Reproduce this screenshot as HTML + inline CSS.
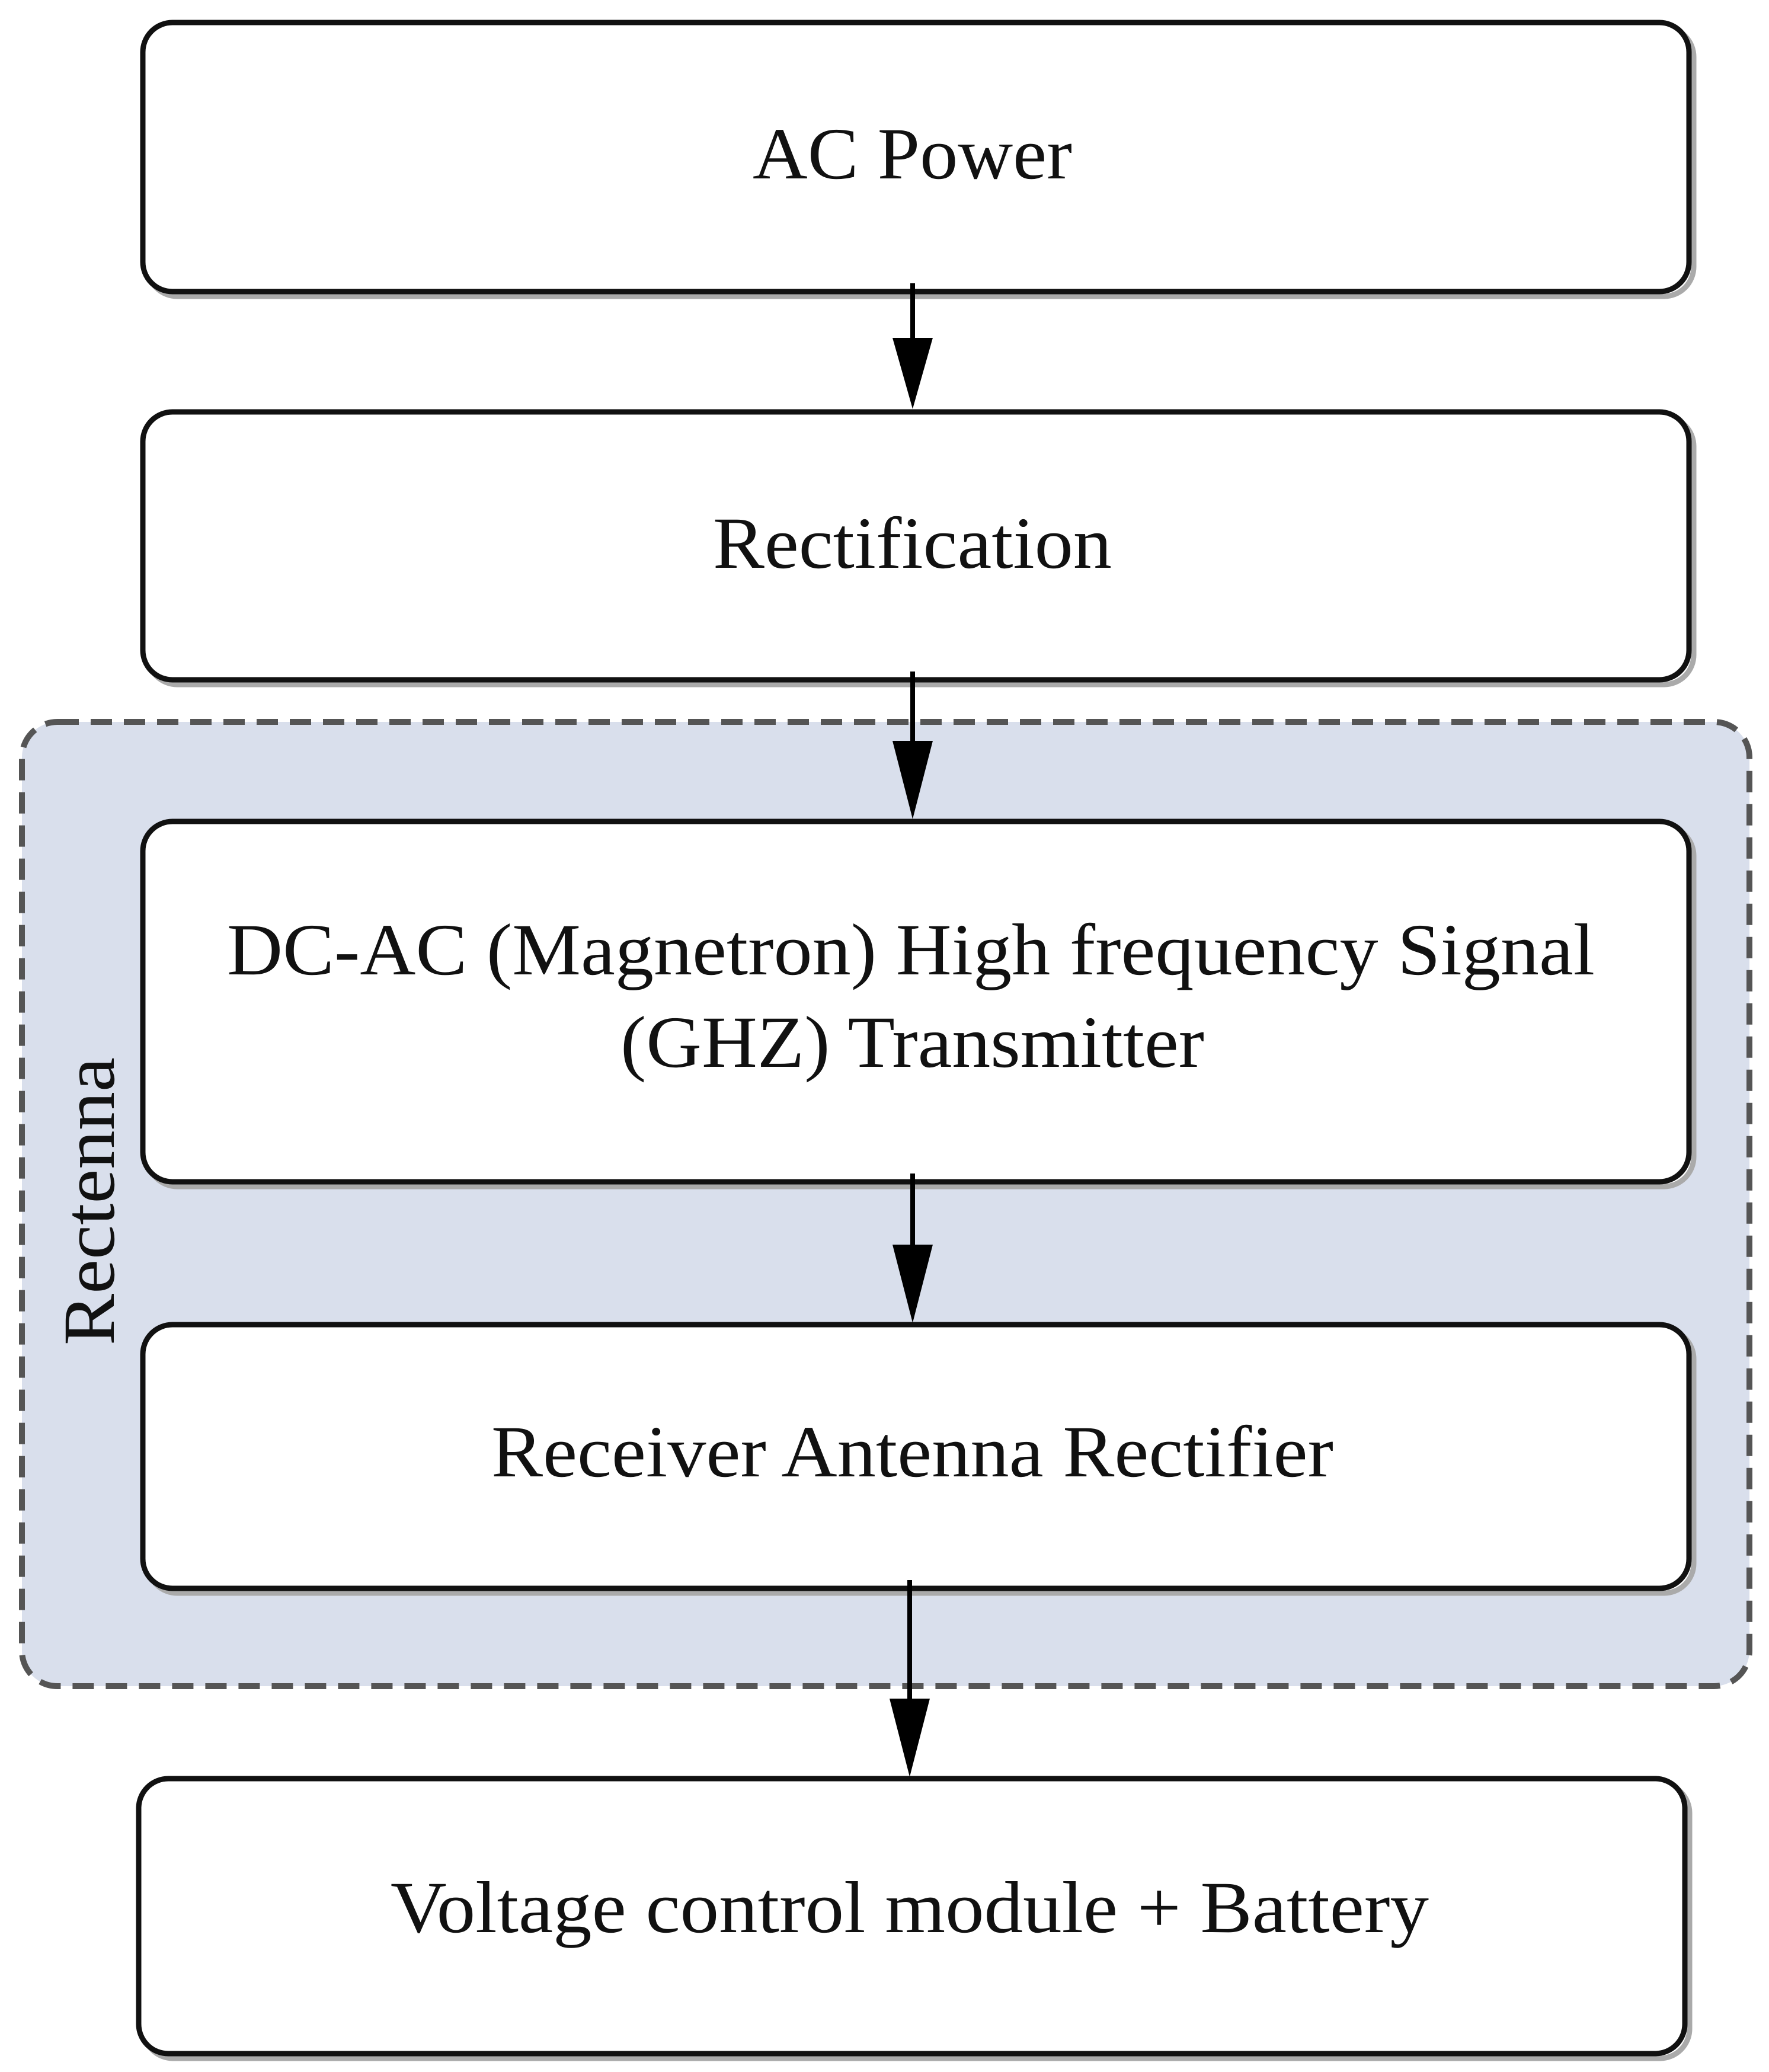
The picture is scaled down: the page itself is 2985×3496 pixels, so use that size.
<!DOCTYPE html>
<html><head><meta charset="utf-8"><style>html,body{margin:0;padding:0;background:#fff}</style></head>
<body>
<svg width="2985" height="3491" viewBox="0 0 2985 3491" xmlns="http://www.w3.org/2000/svg" font-family="'Liberation Serif', serif" font-size="124">
<rect x="37" y="1218" width="2915" height="1627" rx="60" fill="#d9dfec" stroke="#555" stroke-width="10" stroke-dasharray="36 20"/>
<g fill="#fff" stroke="#aaa" stroke-width="9">
<rect x="249" y="46" width="2609" height="454" rx="50"/>
<rect x="249" y="703" width="2609" height="452" rx="50"/>
<rect x="249" y="1394" width="2609" height="608" rx="50"/>
<rect x="249" y="2243" width="2609" height="445" rx="50"/>
<rect x="242" y="3009" width="2609" height="464" rx="50"/>
</g>
<g fill="#fff" stroke="#111" stroke-width="9">
<rect x="241" y="38" width="2609" height="454" rx="50"/>
<rect x="241" y="695" width="2609" height="452" rx="50"/>
<rect x="241" y="1386" width="2609" height="608" rx="50"/>
<rect x="241" y="2235" width="2609" height="445" rx="50"/>
<rect x="234" y="3001" width="2609" height="464" rx="50"/>
</g>
<g stroke="#000" stroke-width="8">
<line x1="1540" y1="478" x2="1540" y2="580"/>
<line x1="1540" y1="1133" x2="1540" y2="1260"/>
<line x1="1540" y1="1980" x2="1540" y2="2110"/>
<line x1="1535" y1="2666" x2="1535" y2="2870"/>
</g>
<g fill="#000">
<polygon points="1506,570 1574,570 1540,690"/>
<polygon points="1506,1250 1574,1250 1540,1382"/>
<polygon points="1506,2100 1574,2100 1540,2232"/>
<polygon points="1501,2866 1569,2866 1535,2998"/>
</g>
<g fill="#111" text-anchor="start">
<text x="1270" y="301" textLength="539" lengthAdjust="spacingAndGlyphs">AC Power</text>
<text x="1203" y="958" textLength="673" lengthAdjust="spacingAndGlyphs">Rectification</text>
<text x="383" y="1644" textLength="2308" lengthAdjust="spacingAndGlyphs">DC-AC (Magnetron) High frequency Signal</text>
<text x="1047" y="1800" textLength="985" lengthAdjust="spacingAndGlyphs">(GHZ) Transmitter</text>
<text x="829" y="2491" textLength="1421" lengthAdjust="spacingAndGlyphs">Receiver Antenna Rectifier</text>
<text x="659" y="3260" textLength="1752" lengthAdjust="spacingAndGlyphs">Voltage control module + Battery</text>
<text transform="translate(192,2270) rotate(-90)" textLength="486" lengthAdjust="spacingAndGlyphs">Rectenna</text>
</g>
</svg>
</body></html>
